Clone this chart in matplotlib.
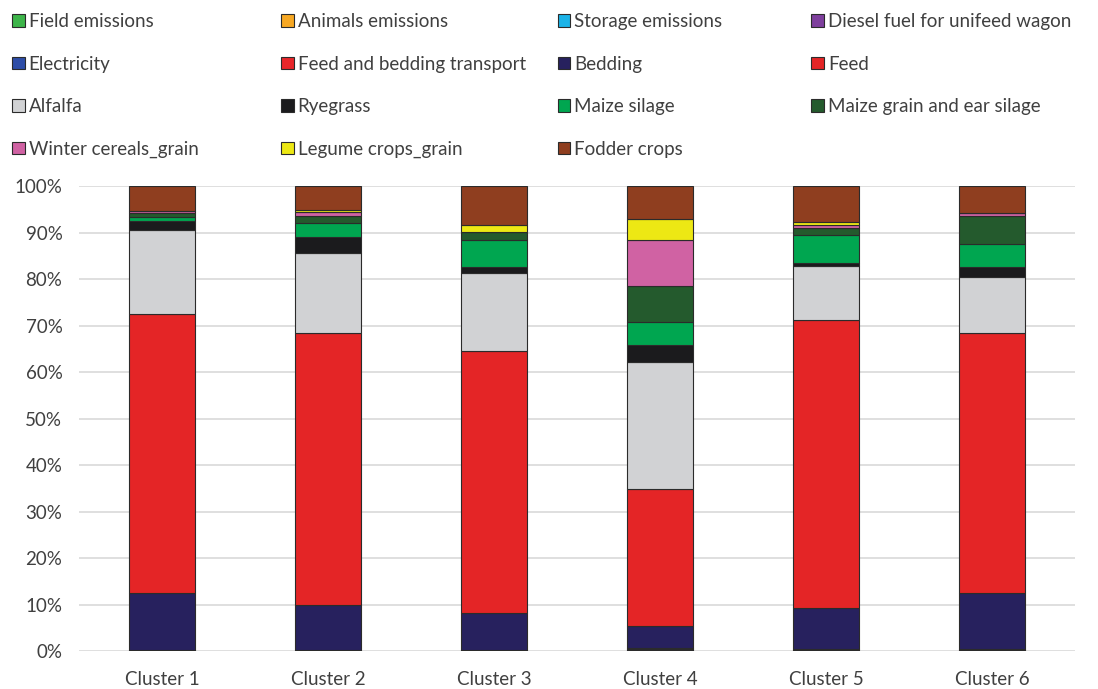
import matplotlib.pyplot as plt
import numpy as np

plt.rcParams['font.family'] = ['Lato', 'DejaVu Sans']

clusters = ['Cluster 1', 'Cluster 2', 'Cluster 3', 'Cluster 4', 'Cluster 5', 'Cluster 6']

# share of each source (%), stacked bottom to top in legend order
field_emissions = [0.0, 0.0, 0.0, 0.0, 0.0, 0.0]
animals_emissions = [0.0, 0.0, 0.0, 0.0, 0.0, 0.0]
storage_emissions = [0.0, 0.0, 0.0, 0.0, 0.0, 0.0]
diesel = [0.1, 0.1, 0.1, 0.2, 0.1, 0.1]
electricity = [0.1, 0.1, 0.1, 0.2, 0.1, 0.1]
transport = [0.1, 0.1, 0.1, 0.2, 0.2, 0.2]
bedding = [12.3, 9.6, 7.8, 4.8, 8.9, 12.0]
feed = [59.9, 58.5, 56.4, 29.4, 61.9, 56.0]
alfalfa = [18.0, 17.3, 16.7, 27.4, 11.7, 12.1]
ryegrass = [1.9, 3.3, 1.3, 3.6, 0.6, 2.0]
maize_silage = [1.0, 3.1, 5.8, 5.0, 6.0, 5.0]
maize_grain = [0.8, 1.4, 1.9, 7.7, 1.4, 6.0]
winter_cereals = [0.5, 1.0, 0.0, 9.9, 0.8, 0.8]
legume_crops = [0.0, 0.4, 1.5, 4.5, 0.6, 0.0]
fodder_crops = [5.3, 5.1, 8.3, 7.1, 7.7, 5.7]

series = [
    ('Field emissions', field_emissions, '#3DB54A'),
    ('Animals emissions', animals_emissions, '#F7A823'),
    ('Storage emissions', storage_emissions, '#1BB3E8'),
    ('Diesel fuel for unifeed wagon', diesel, '#7E3F9D'),
    ('Electricity', electricity, '#2E4DA7'),
    ('Feed and bedding transport', transport, '#E8262A'),
    ('Bedding', bedding, '#27215E'),
    ('Feed', feed, '#E42526'),
    ('Alfalfa', alfalfa, '#D1D2D4'),
    ('Ryegrass', ryegrass, '#1B1B1D'),
    ('Maize silage', maize_silage, '#00A650'),
    ('Maize grain and ear silage', maize_grain, '#245A2D'),
    ('Winter cereals_grain', winter_cereals, '#D062A3'),
    ('Legume crops_grain', legume_crops, '#EDE814'),
    ('Fodder crops', fodder_crops, '#8F3E1F'),
]

fig = plt.figure(figsize=(10.98, 6.89), dpi=100)
ax = fig.add_axes([0.072, 0.055, 0.907, 0.675])

x = np.arange(len(clusters))
bottom = np.zeros(len(clusters))
handles = []
for name, vals, col in series:
    v = np.array(vals) / 100.0
    b = ax.bar(x, v, 0.4, bottom=bottom, color=col, edgecolor='#2b2b2b',
               linewidth=0.8, label=name, zorder=3)
    handles.append(b)
    bottom += v

ax.set_xlim(-0.5, len(clusters) - 0.5)
ax.set_ylim(0, 1.0)
ax.set_yticks(np.linspace(0, 1, 11))
ax.set_yticklabels([f'{int(round(t * 100))}%' for t in np.linspace(0, 1, 11)])
ax.set_xticks(x)
ax.set_xticklabels(clusters)
ax.tick_params(axis='both', length=0, labelsize=13.5, colors='#404040')
ax.tick_params(axis='y', pad=12)
ax.tick_params(axis='x', pad=14)
ax.yaxis.grid(True, color='#D9D9D9', linewidth=1.2, zorder=0)
for s in ax.spines.values():
    s.set_visible(False)

# four legend columns laid out like the spreadsheet legend
col_x = [-0.001, 0.244, 0.496, 0.727]
for c in range(4):
    hs = handles[c::4]
    fig.legend(hs, [h.get_label() for h in hs], loc='upper left',
               bbox_to_anchor=(col_x[c], 1.0), frameon=False, fontsize=13.5,
               labelspacing=1.36, handlelength=0.68, handleheight=0.68,
               handletextpad=0.2, borderaxespad=0.3, labelcolor='#404040')

fig.savefig('out.png', dpi=100)
